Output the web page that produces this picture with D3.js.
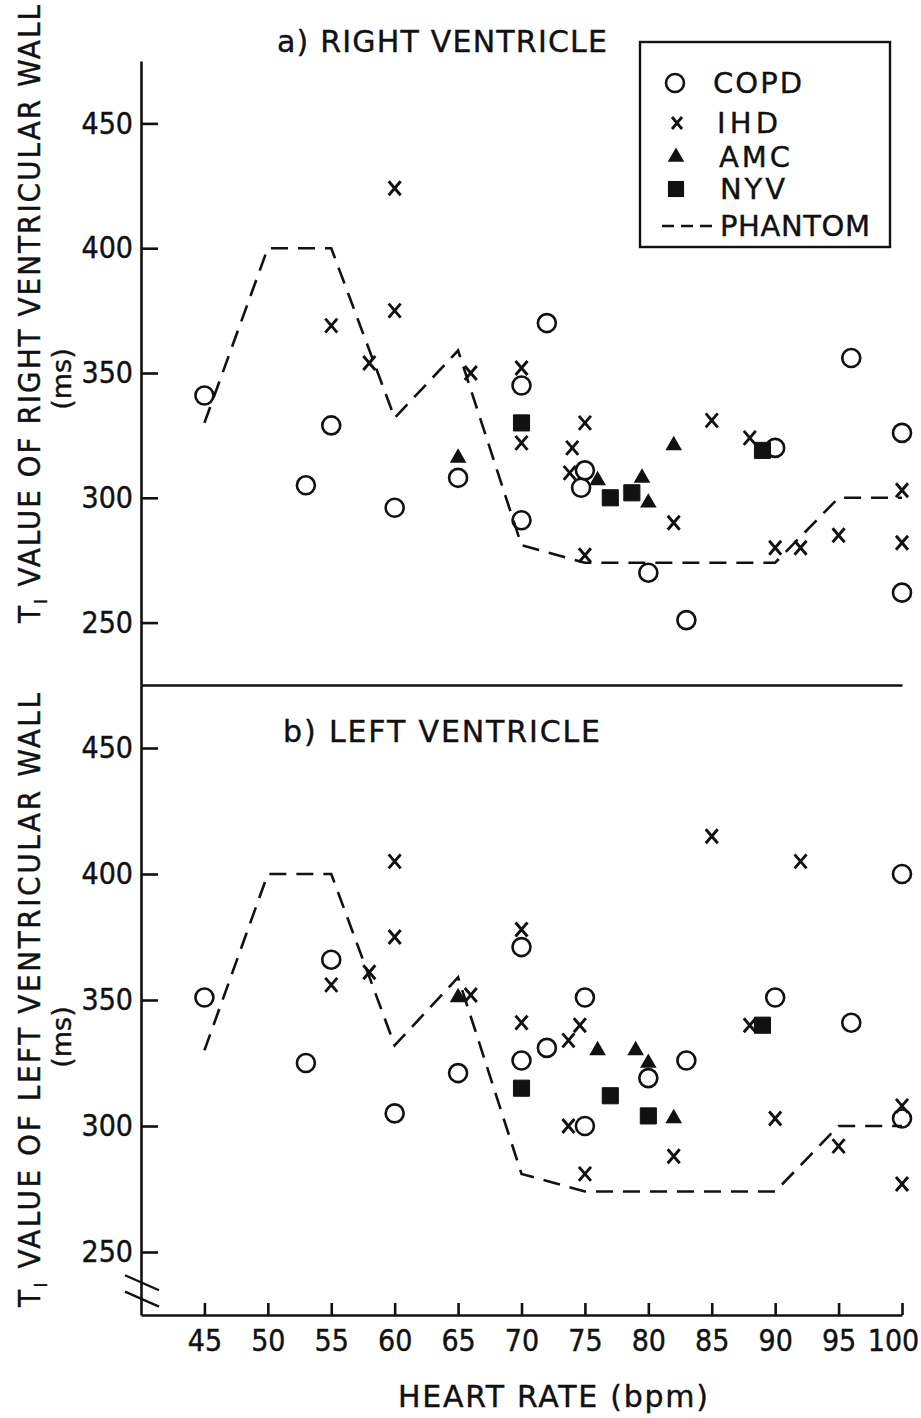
<!DOCTYPE html>
<html>
<head>
<meta charset="utf-8">
<script src="https://cdn.jsdelivr.net/npm/d3@7"></script>
<style>
  body { margin: 0; background: #fff; }
  svg text {
    font-family: "DejaVu Sans", sans-serif;
    fill: #111;
    stroke: #111;
    stroke-width: 0.4;
  }
  svg text.narrow {
    font-family: "DejaVu Sans Condensed", "DejaVu Sans", sans-serif;
    font-stretch: condensed;
  }
</style>
</head>
<body>
<svg id="chart" width="921" height="1418"></svg>
<script>
// ---- data: [heart rate (bpm), T1 (ms)] ----
const heartRateTicks = [45, 50, 55, 60, 65, 70, 75, 80, 85, 90, 95, 100];
const msTicks = [250, 300, 350, 400, 450];

// phantom reference curve (same for both walls)
const phantom = [[45,330],[50,400],[55,400],[60,332],[65,359],[70,281],[75,274],[90,274],[95,300],[100,300]];

// a) right ventricular wall
const rvCOPD = [[45,341],[53,305],[55,329],[60,296],[65,308],[70,345],[70,291],[72,370],[75,311],[74.7,304],[80,270],[83,251],[90,320],[96,356],[100,326],[100,262]];
const rvIHD  = [[60,424],[60,375],[55,369],[58,354],[66,350],[70,352],[70,322],[75,330],[74,320],[73.8,310],[75,277],[82,290],[85,331],[88,324],[90,280],[92,280],[95,285],[100,303],[100,282]];
const rvAMC  = [[65,316],[76,307],[79.5,308],[80,298],[82,321]];
const rvNYV  = [[70,330],[77,300],[78.7,302],[89,319]];

// b) left ventricular wall
const lvCOPD = [[45,351],[53,325],[55,366],[60,305],[65,321],[70,371],[70,326],[72,331],[75,351],[75,300],[80,319],[83,326],[90,351],[96,341],[100,400],[100,303]];
const lvIHD  = [[60,405],[60,375],[55,356],[58,361],[66,352],[70,378],[70,341],[74.6,340],[73.7,334],[73.7,300],[75,281],[82,288],[85,415],[92,405],[88,340],[90,303],[95,292],[100,308],[100,277]];
const lvAMC  = [[65,351],[76,330],[79,330],[80,325],[82,303]];
const lvNYV  = [[70,315],[77,312],[80,304],[89,340]];

const legendItems = ["COPD", "IHD", "AMC", "NYV", "PHANTOM"];

// ---- layout ----
const svg = d3.select("#chart");
const INK = "#111";
const AXIS_W = 2.6;

const x = d3.scaleLinear().domain([40, 100]).range([141, 902]);
const yTop = d3.scaleLinear().domain([225, 475]).range([685, 61]);
const yBot = d3.scaleLinear().domain([225, 475]).range([1315, 685]);

function styleAxis(g, fontSize) {
  g.selectAll("path.domain").attr("stroke", INK).attr("stroke-width", AXIS_W);
  g.selectAll(".tick line").attr("stroke", INK).attr("stroke-width", AXIS_W);
  g.selectAll(".tick text")
    .attr("class", "narrow")
    .attr("fill", INK)
    .attr("font-size", fontSize);
  g.attr("font-family", null).attr("font-size", null);
}

function yAxis(scale) {
  const g = svg.append("g")
    .attr("transform", `translate(${x(40)},0)`)
    .call(d3.axisLeft(scale).tickValues(msTicks).tickFormat(d3.format("d"))
      .tickSizeInner(-17).tickSizeOuter(0).tickPadding(8));
  styleAxis(g, 30);
  return g;
}

const symTriangle = d3.symbol().type(d3.symbolTriangle).size(120);
const symSquare = d3.symbol().type(d3.symbolSquare).size(260);

function drawPanel(yScale, copd, ihd, amc, nyv) {
  const g = svg.append("g");

  // phantom curve
  const line = d3.line().x(d => x(d[0])).y(d => yScale(d[1]));
  g.append("path")
    .datum(phantom)
    .attr("d", line)
    .attr("fill", "none")
    .attr("stroke", INK)
    .attr("stroke-width", 2.6)
    .attr("stroke-dasharray", "17,10");

  // COPD: open circles
  g.selectAll("circle.copd").data(copd).join("circle")
    .attr("class", "copd")
    .attr("cx", d => x(d[0])).attr("cy", d => yScale(d[1]))
    .attr("r", 9)
    .attr("fill", "none").attr("stroke", INK).attr("stroke-width", 2.6);

  // IHD: crosses
  g.selectAll("path.ihd").data(ihd).join("path")
    .attr("class", "ihd")
    .attr("transform", d => `translate(${x(d[0])},${yScale(d[1])})`)
    .attr("d", "M-6,-7L6,7M-6,7L6,-7")
    .attr("stroke", INK).attr("stroke-width", 2.9).attr("fill", "none");

  // AMC: filled triangles
  g.selectAll("path.amc").data(amc).join("path")
    .attr("class", "amc")
    .attr("transform", d => `translate(${x(d[0])},${yScale(d[1])})`)
    .attr("d", symTriangle)
    .attr("fill", INK);

  // NYV: filled squares
  g.selectAll("path.nyv").data(nyv).join("path")
    .attr("class", "nyv")
    .attr("transform", d => `translate(${x(d[0])},${yScale(d[1])})`)
    .attr("d", symSquare)
    .attr("fill", INK)
    .attr("stroke", INK).attr("stroke-width", 1).attr("stroke-linejoin", "round");
}

// ---- axes ----
yAxis(yTop);
yAxis(yBot);

// shared divider between the two panels
const divider = svg.append("g")
  .attr("transform", `translate(0,${yTop(225)})`)
  .call(d3.axisBottom(x).tickValues([]).tickSizeOuter(0));
styleAxis(divider, 30);

// heart-rate axis
const xAxisG = svg.append("g")
  .attr("transform", `translate(0,${yBot(225)})`)
  .call(d3.axisBottom(x).tickValues(heartRateTicks).tickFormat(d3.format("d"))
    .tickSizeInner(-12).tickSizeOuter(0).tickPadding(15));
styleAxis(xAxisG, 30);
// the last label sits against the page edge
xAxisG.selectAll(".tick text").filter(d => d === 100).attr("dx", -9);

// axis break marks on the lower T1 axis
const breakY = [yBot(238), yBot(231.5)];
svg.selectAll("line.brk").data(breakY).join("line")
  .attr("class", "brk")
  .attr("x1", x(40) - 16).attr("y1", d => d - 7)
  .attr("x2", x(40) + 18).attr("y2", d => d + 8)
  .attr("stroke", INK).attr("stroke-width", 2.4);

// ---- marks ----
drawPanel(yTop, rvCOPD, rvIHD, rvAMC, rvNYV);
drawPanel(yBot, lvCOPD, lvIHD, lvAMC, lvNYV);

// ---- titles ----
svg.append("text").attr("x", 277).attr("y", 52).attr("font-size", 30)
  .attr("textLength", 330).attr("lengthAdjust", "spacing")
  .text("a) RIGHT VENTRICLE");
svg.append("text").attr("x", 283).attr("y", 742).attr("font-size", 30)
  .attr("textLength", 317).attr("lengthAdjust", "spacing")
  .text("b) LEFT VENTRICLE");

svg.append("text")
  .attr("x", 398).attr("y", 1407)
  .attr("font-size", 30)
  .attr("textLength", 310).attr("lengthAdjust", "spacing")
  .text("HEART RATE (bpm)");

function yTitle(x0, yStart, yEnd, wall, msCenter) {
  const t = svg.append("text")
    .attr("class", "narrow")
    .attr("transform", `translate(${x0},${yStart}) rotate(-90)`)
    .attr("font-size", 31)
    .attr("textLength", yStart - yEnd)
    .attr("lengthAdjust", "spacing");
  t.append("tspan").text("T");
  t.append("tspan").attr("font-size", 18).attr("dy", 7).text("I");
  t.append("tspan").attr("dy", -7).text(` VALUE OF ${wall} VENTRICULAR WALL`);
  svg.append("text")
    .attr("transform", `translate(${x0 + 31},${msCenter}) rotate(-90)`)
    .attr("text-anchor", "middle").attr("font-size", 27)
    .text("(ms)");
}
yTitle(40, 623, 5, "RIGHT", 379);
yTitle(40, 1307, 693, "LEFT", 1037);

// ---- legend ----
const lg = svg.append("g");
lg.append("rect").attr("x", 640).attr("y", 42).attr("width", 250).attr("height", 205)
  .attr("fill", "#fff").attr("stroke", INK).attr("stroke-width", 2.4);
const legendY = [83, 123, 157, 189, 226];
const legendTextX = [713, 717, 719, 720, 720];
const legendTextW = [89, 61, 71, 65, 150];
lg.append("circle").attr("cx", 675).attr("cy", legendY[0]).attr("r", 9)
  .attr("fill", "none").attr("stroke", INK).attr("stroke-width", 2.6);
lg.append("path").attr("transform", `translate(677,${legendY[1]})`)
  .attr("d", "M-5,-6L5,6M-5,6L5,-6").attr("stroke", INK).attr("stroke-width", 2.8);
lg.append("path").attr("transform", `translate(676,${legendY[2]})`).attr("d", symTriangle).attr("fill", INK);
lg.append("path").attr("transform", `translate(676,${legendY[3]})`).attr("d", symSquare).attr("fill", INK);
lg.append("line").attr("x1", 662).attr("x2", 714).attr("y1", legendY[4]).attr("y2", legendY[4])
  .attr("stroke", INK).attr("stroke-width", 2.6).attr("stroke-dasharray", "12,7");
lg.selectAll("text.lbl").data(legendItems).join("text")
  .attr("class", "lbl")
  .attr("x", (d, i) => legendTextX[i])
  .attr("y", (d, i) => legendY[i] + 10)
  .attr("font-size", 29)
  .attr("textLength", (d, i) => legendTextW[i])
  .attr("lengthAdjust", "spacing")
  .text(d => d);
</script>
</body>
</html>
